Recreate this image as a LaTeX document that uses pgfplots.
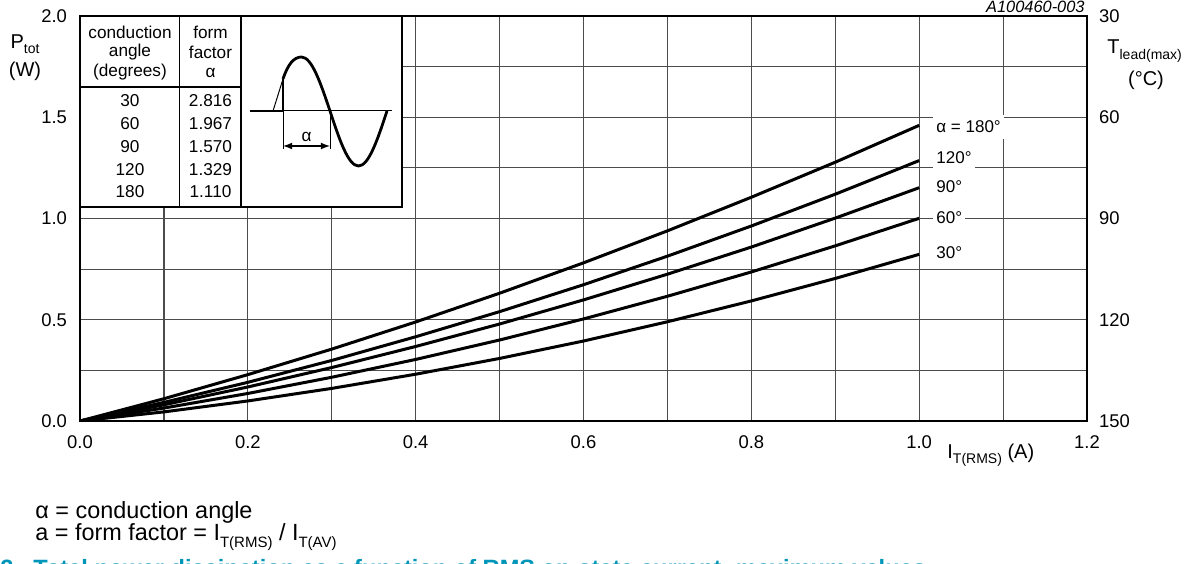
\documentclass[border=0pt]{standalone}
\usepackage{fontspec}
\setmainfont{Liberation Sans}
\usepackage{pgfplots}
\pgfplotsset{compat=1.18}
\definecolor{figblue}{RGB}{0,150,185}
\newcommand{\fs}[1]{\fontsize{#1}{#1}\selectfont}
\newcommand{\sub}[2]{\raisebox{-0.5ex}{\fontsize{#1}{#1}\selectfont #2}}
\begin{document}
\begin{tikzpicture}
\begin{axis}[at={(40pt,71pt)}, anchor=south west, scale only axis,
  width=503.5pt, height=202.5pt,
  xmin=0, xmax=1.2, ymin=0, ymax=2,
  xtick={0,0.2,0.4,0.6,0.8,1.0,1.2},
  ytick={0,0.5,1.0,1.5,2.0},
  minor xtick={0.1,0.3,0.5,0.7,0.9,1.1},
  minor ytick={0.25,0.75,1.25,1.75},
  grid=both,
  major grid style={black!70, line width=0.6pt},
  minor grid style={black!70, line width=0.6pt},
  major tick length=0pt, minor tick length=0pt,
  axis line style={line width=0.85pt},
  /pgf/number format/assume math mode=true,
  /pgf/number format/fixed, /pgf/number format/fixed zerofill,
  /pgf/number format/precision=1,
  x tick label style={font=\fs{9.2}, yshift=-4pt},
  y tick label style={font=\fs{9.2}, xshift=-3pt},
]
% alpha = 180
\addplot[black, line width=1.5pt] coordinates {(0,0) (0.1,0.110) (0.2,0.229) (0.3,0.355) (0.4,0.489) (0.5,0.631) (0.6,0.781) (0.7,0.939) (0.8,1.105) (0.9,1.278) (1.0,1.460)};
% 120
\addplot[black, line width=1.5pt] coordinates {(0,0) (0.1,0.092) (0.2,0.191) (0.3,0.299) (0.4,0.416) (0.5,0.540) (0.6,0.673) (0.7,0.814) (0.8,0.963) (0.9,1.120) (1.0,1.286)};
% 90
\addplot[black, line width=1.5pt] coordinates {(0,0) (0.1,0.080) (0.2,0.168) (0.3,0.264) (0.4,0.368) (0.5,0.479) (0.6,0.598) (0.7,0.725) (0.8,0.859) (0.9,1.002) (1.0,1.152)};
% 60
\addplot[black, line width=1.5pt] coordinates {(0,0) (0.1,0.064) (0.2,0.136) (0.3,0.216) (0.4,0.304) (0.5,0.400) (0.6,0.504) (0.7,0.616) (0.8,0.736) (0.9,0.865) (1.0,1.001)};
% 30
\addplot[black, line width=1.5pt] coordinates {(0,0) (0.1,0.045) (0.2,0.099) (0.3,0.161) (0.4,0.231) (0.5,0.309) (0.6,0.395) (0.7,0.490) (0.8,0.593) (0.9,0.704) (1.0,0.823)};
\end{axis}
\begin{axis}[at={(40pt,71pt)}, anchor=south west, scale only axis,
  width=503.5pt, height=202.5pt,
  xmin=0, xmax=1.2, ymin=30, ymax=150, y dir=reverse,
  axis x line=none, axis y line*=right,
  ytick={30,60,90,120,150},
  major tick length=0pt,
  axis line style={line width=0.85pt},
  /pgf/number format/assume math mode=true,
  y tick label style={font=\fs{9.2}, xshift=2.5pt},
]
\addplot[draw=none] coordinates {(0,30) (1,150)};
\end{axis}
\begin{scope}[x=0.5pt, y=-0.5pt, yshift=281.5pt]
  % inset table
  \fill[white] (80,16) rectangle (402,207);
  \draw[line width=0.85pt] (80,16) rectangle (402,207);
  \draw[line width=0.6pt] (179.5,16) -- (179.5,207);
  \draw[line width=0.6pt] (241,16) -- (241,207);
  \draw[line width=0.6pt] (80,87) -- (241,87);
  \begin{scope}[every node/.style={font=\fs{8.6}, inner sep=0pt}]
    \node at (130,32) {conduction};
    \node at (130,52.5) {angle};
    \node at (130,72.5) {(degrees)};
    \node at (210.5,32) {form};
    \node at (210.5,52.5) {factor};
    \node at (210.5,72.5) {α};
    \node at (130,101) {30};  \node at (210.5,101) {2.816};
    \node at (130,124) {60};  \node at (210.5,124) {1.967};
    \node at (130,147) {90};  \node at (210.5,147) {1.570};
    \node at (130,170) {120}; \node at (210.5,170) {1.329};
    \node at (130,192) {180}; \node at (210.5,192) {1.110};
  \end{scope}
  % waveform sketch
  \draw[line width=0.5pt] (250,111) -- (392,111);
  \draw[line width=0.5pt] (273,111) -- (283,79);
  \draw[line width=1.4pt] (250,111) -- (283,111) -- (283,79);
  \draw[line width=1.4pt] (283,79) .. controls (288,64) and (294,57) .. (301.5,57)
     cos (330,111) sin (358.5,166) cos (387,111);
  \draw[line width=0.5pt] (283,111) -- (283,149);
  \draw[line width=0.5pt] (330,111) -- (330,149);
  \draw[line width=0.6pt, <->, >=latex] (283,146) -- (330,146);
  \node[font=\fs{8.6}, inner sep=0pt] at (306.5,137) {α};
  % curve labels
  \begin{scope}[every node/.style={font=\fs{8.5}, fill=white, inner xsep=1.5pt, inner ysep=2.8pt, anchor=west}]
    \node at (933,127) {α = 180°};
    \node at (933,158) {120°};
    \node at (933,187) {90°};
    \node at (933,218) {60°};
    \node at (933,253) {30°};
  \end{scope}
  % axis titles
  \node[font=\fs{10}, inner sep=0pt] at (25,44) {P\sub{7}{tot}};
  \node[font=\fs{10}, inner sep=0pt] at (25,71) {(W)};
  \node[font=\fs{10}, inner sep=0pt, anchor=west] at (1107,51) {T\sub{7}{lead(max)}};
  \node[font=\fs{10}, inner sep=0pt] at (1146,80) {(°C)};
  \node[font=\fs{10}, inner sep=0pt, anchor=west] at (947,455) {I\sub{7}{T(RMS)} (A)};
  \node[font=\itshape\fs{8.2}, inner sep=0pt, anchor=east] at (1085,7) {A100460-003};
  % notes
  \node[font=\fs{11.7}, inner sep=0pt, anchor=west] at (35,512) {α = conduction angle};
  \node[font=\fs{11.7}, inner sep=0pt, anchor=west] at (35,537) {a = form factor = I\sub{7.5}{T(RMS)} / I\sub{7.5}{T(AV)}};
  \node[font=\bfseries\fs{11.8}, text=figblue, inner sep=0pt, anchor=base west] at (0,576) {2.};
  \node[font=\bfseries\fs{11.8}, text=figblue, inner sep=0pt, anchor=base west] at (33,576) {Total power dissipation as a function of RMS on-state current; maximum values};
\end{scope}
\pgfresetboundingbox
\path[use as bounding box] (0,0) rectangle (596pt,281.5pt);
\end{tikzpicture}
\end{document}
